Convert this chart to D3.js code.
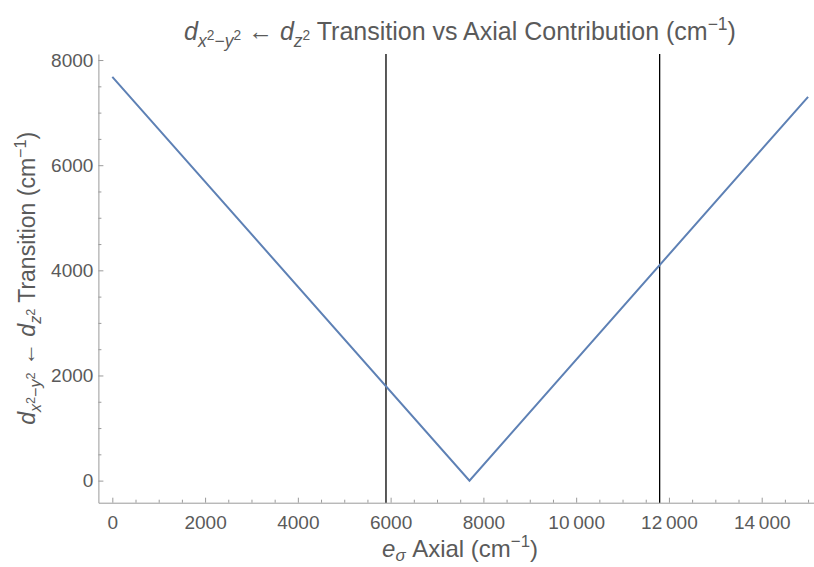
<!DOCTYPE html>
<html>
<head>
<meta charset="utf-8">
<script src="https://cdn.jsdelivr.net/npm/d3@7"></script>
<style>
  html, body { margin: 0; padding: 0; background: #fff; }
  svg { display: block; font-family: "Liberation Sans", Arial, sans-serif; }
</style>
</head>
<body>
<div id="chart"></div>
<script>
// ---- data ----
const eSigmaAxial = [0, 7700, 15000];          // x, cm^-1
const transitionEnergy = [7680, 0, 7300];      // y, cm^-1
const markerPositions = [5900, 11800];         // vertical reference lines
const xTickValues = [0, 2000, 4000, 6000, 8000, 10000, 12000, 14000];
const xTickLabels = ['0', '2000', '4000', '6000', '8000', '10\u2009000', '12\u2009000', '14\u2009000'];
const yTickValues = [0, 2000, 4000, 6000, 8000];
const yTickLabels = ['0', '2000', '4000', '6000', '8000'];

(function () {
  'use strict';

  const W = 814, H = 567;
  const plot = { left: 98.4, right: 822, top: 54, bottom: 502.7 };
  const axisGrey = '#9a9a9a';
  const textGrey = '#5a5a5a';
  const tickFont = 19;

  const svg = d3.select('#chart').append('svg')
    .attr('width', W).attr('height', H);

  const x = d3.scaleLinear().domain([-300, 15300]).range([plot.left, plot.right]);
  const y = d3.scaleLinear().domain([-420, 8115]).range([plot.bottom, plot.top]);

  // minor ticks every 500
  const xMinor = d3.range(0, 15001, 500).filter(v => v % 2000 !== 0);
  const yMinor = d3.range(0, 8001, 500).filter(v => v % 2000 !== 0);

  function styleAxis(g) {
    g.selectAll('path, line').attr('stroke', axisGrey).attr('stroke-width', 1);
    g.selectAll('text').attr('fill', textGrey)
      .attr('font-size', tickFont).attr('font-family', '"Liberation Sans", Arial, sans-serif');
  }

  // x axis (ticks point inward)
  svg.append('g')
    .attr('transform', `translate(0,${plot.bottom})`)
    .call(d3.axisBottom(x).tickValues(xMinor).tickSizeInner(-3).tickSizeOuter(0).tickFormat(''))
    .call(styleAxis);
  const gx = svg.append('g')
    .attr('transform', `translate(0,${plot.bottom})`)
    .call(d3.axisBottom(x).tickValues(xTickValues).tickSizeInner(-5).tickSizeOuter(0)
      .tickPadding(13).tickFormat((d, i) => xTickLabels[i]))
    .call(styleAxis);
  gx.select('.domain').remove();

  // y axis
  svg.append('g')
    .attr('transform', `translate(${plot.left},0)`)
    .call(d3.axisLeft(y).tickValues(yMinor).tickSizeInner(-3).tickSizeOuter(0).tickFormat(''))
    .call(styleAxis);
  const gy = svg.append('g')
    .attr('transform', `translate(${plot.left},0)`)
    .call(d3.axisLeft(y).tickValues(yTickValues).tickSizeInner(-5).tickSizeOuter(0)
      .tickPadding(5).tickFormat((d, i) => yTickLabels[i]))
    .call(styleAxis);
  gy.select('.domain').remove();

  // clip for marks
  svg.append('clipPath').attr('id', 'clip').append('rect')
    .attr('x', plot.left).attr('y', plot.top)
    .attr('width', plot.right - plot.left).attr('height', plot.bottom - plot.top);

  // vertical marker lines
  svg.append('g').selectAll('line')
    .data(markerPositions)
    .join('line')
    .attr('x1', d => x(d)).attr('x2', d => x(d))
    .attr('y1', plot.top).attr('y2', plot.bottom)
    .attr('stroke', '#000').attr('stroke-width', 1.3);

  // the curve
  const pts = eSigmaAxial.map((v, i) => [v, transitionEnergy[i]]);
  svg.append('path')
    .datum(pts)
    .attr('clip-path', 'url(#clip)')
    .attr('fill', 'none')
    .attr('stroke', '#5E81B5')
    .attr('stroke-width', 2)
    .attr('d', d3.line().x(d => x(d[0])).y(d => y(d[1])));

  // rich text: segments {t, i: italic, s: 'sub'|'sup'|'subsup', k: size factor, d: custom sub depth}
  function richText(sel, segs, size) {
    let cur = 0;
    segs.forEach(seg => {
      let target = 0;
      if (seg.s === 'sub') target = (seg.d || 0.28) * size;
      else if (seg.s === 'sup') target = -0.4 * size;
      sel.append('tspan')
        .attr('dy', target - cur)
        .style('font-style', seg.i ? 'italic' : 'normal')
        .style('font-size', (size * (seg.k || 1)) + 'px')
        .text(seg.t);
      cur = target;
    });
  }

  const subLabel = [
    { t: 'd', i: true },
    { t: 'x', i: true, s: 'sub', k: 0.7 },
    { t: '2', s: 'subsup', k: 0.55 },
    { t: '\u2212', s: 'sub', k: 0.7 },
    { t: 'y', i: true, s: 'sub', k: 0.7 },
    { t: '2', s: 'subsup', k: 0.55 },
    { t: ' \u2190 ' },
    { t: 'd', i: true },
    { t: 'z', i: true, s: 'sub', k: 0.7 },
    { t: '2', s: 'subsup', k: 0.55 }
  ];

  // title
  const title = svg.append('text')
    .attr('x', 460).attr('y', 40)
    .attr('text-anchor', 'middle')
    .attr('fill', textGrey);
  richText(title, subLabel.concat([
    { t: ' Transition vs Axial Contribution (cm' },
    { t: '\u22121', s: 'sup', k: 0.7 },
    { t: ')' }
  ]), 25);

  // x label
  const xl = svg.append('text')
    .attr('x', 460).attr('y', 557)
    .attr('text-anchor', 'middle')
    .attr('fill', textGrey);
  richText(xl, [
    { t: 'e', i: true },
    { t: '\u03c3', i: true, s: 'sub', k: 0.7, d: 0.18 },
    { t: ' Axial (cm' },
    { t: '\u22121', s: 'sup', k: 0.7 },
    { t: ')' }
  ], 24);

  // y label
  const yl = svg.append('text')
    .attr('transform', `translate(35,${(plot.top + plot.bottom) / 2}) rotate(-90)`)
    .attr('text-anchor', 'middle')
    .attr('fill', textGrey);
  richText(yl, subLabel.concat([
    { t: ' Transition (cm' },
    { t: '\u22121', s: 'sup', k: 0.7 },
    { t: ')' }
  ]), 23);
})();
</script>
</body>
</html>
